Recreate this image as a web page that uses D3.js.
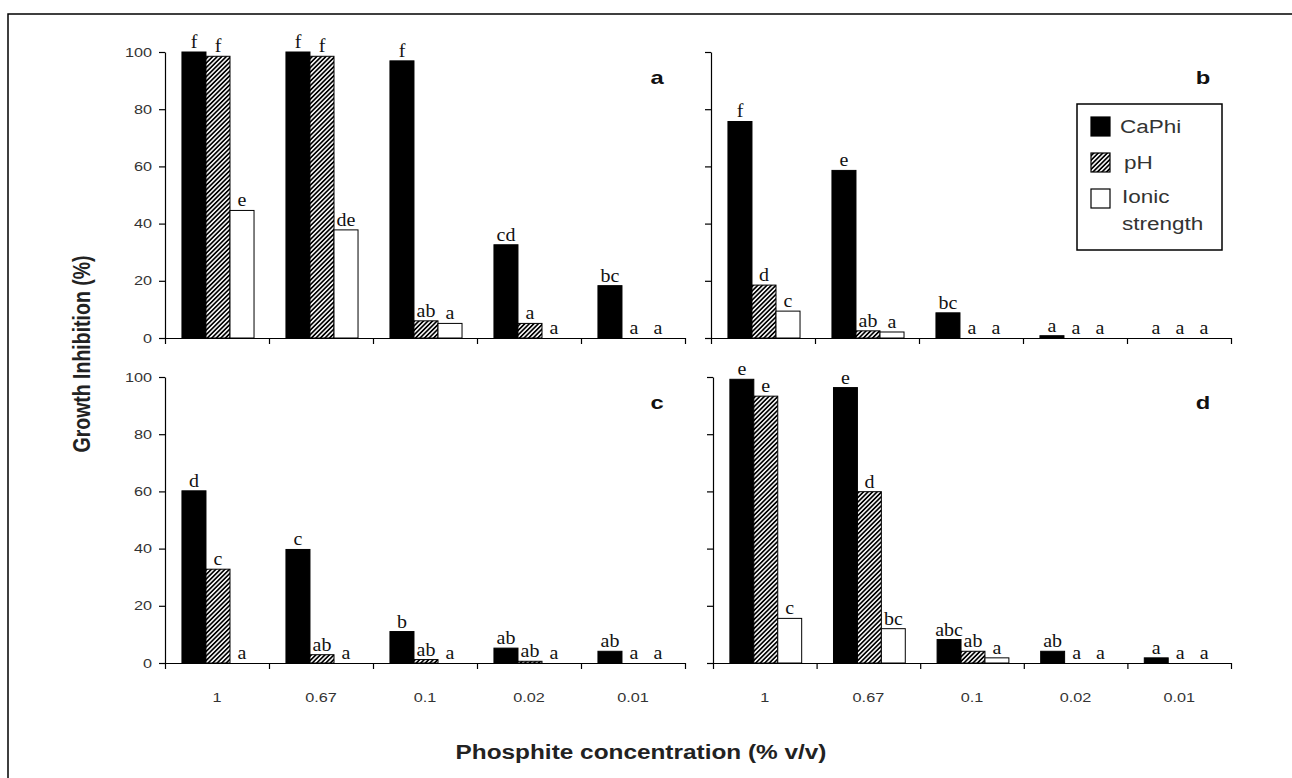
<!DOCTYPE html>
<html><head><meta charset="utf-8">
<script src="https://cdn.jsdelivr.net/npm/d3@7"></script>
<style>body{margin:0;background:#fff} svg{display:block}</style>
</head><body><svg id="chart" width="1292" height="778"></svg>
<script>
// ---- data ----
const categories = ["1","0.67","0.1","0.02","0.01"];
const seriesNames = ["CaPhi","pH","Ionic strength"];
const yTicks = [0,20,40,60,80,100];

const aCaPhi = [100,100,96.9,32.6,18.3];
const aPH    = [98.5,98.5,6.0,5.1,0];
const aIonic = [44.6,37.8,5.1,0,0];
const aCaPhiSig = ["f","f","f","cd","bc"];
const aPHSig    = ["f","f","ab","a","a"];
const aIonicSig = ["e","de","a","a","a"];

const bCaPhi = [75.7,58.6,8.8,0.8,0];
const bPH    = [18.5,2.5,0,0,0];
const bIonic = [9.4,2.1,0,0,0];
const bCaPhiSig = ["f","e","bc","a","a"];
const bPHSig    = ["d","ab","a","a","a"];
const bIonicSig = ["c","a","a","a","a"];

const cCaPhi = [60.2,39.7,11.0,5.2,4.1];
const cPH    = [32.8,2.9,1.2,0.6,0];
const cIonic = [0,0,0,0,0];
const cCaPhiSig = ["d","c","b","ab","ab"];
const cPHSig    = ["c","ab","ab","ab","a"];
const cIonicSig = ["a","a","a","a","a"];

const dCaPhi = [99.2,96.3,8.2,4.1,1.8];
const dPH    = [93.3,59.9,4.1,0,0];
const dIonic = [15.6,12.0,1.8,0,0];
const dCaPhiSig = ["e","e","abc","ab","a"];
const dPHSig    = ["e","d","ab","a","a"];
const dIonicSig = ["c","bc","a","a","a"];

// ---- layout ----
const SX = 1.25; // horizontal stretch of sans text, as in the reference
const SANS = "Arial, 'Liberation Sans', sans-serif";
const SERIF = "'Times New Roman', 'Liberation Serif', serif";
const panels = [
  {id:"a", x0:165, x1:685, top:52, bot:338, yLab:true,  xLab:false, vals:[aCaPhi,aPH,aIonic], sig:[aCaPhiSig,aPHSig,aIonicSig]},
  {id:"b", x0:711, x1:1231, top:52, bot:338, yLab:false, xLab:false, vals:[bCaPhi,bPH,bIonic], sig:[bCaPhiSig,bPHSig,bIonicSig]},
  {id:"c", x0:165, x1:685, top:377, bot:663, yLab:true,  xLab:true,  vals:[cCaPhi,cPH,cIonic], sig:[cCaPhiSig,cPHSig,cIonicSig]},
  {id:"d", x0:713, x1:1231, top:377, bot:663, yLab:false, xLab:true,  vals:[dCaPhi,dPH,dIonic], sig:[dCaPhiSig,dPHSig,dIonicSig]}
];
const fills = ["#000","url(#hatch)","#fff"];

const svg = d3.select("#chart");
svg.append("rect").attr("width",1292).attr("height",778).attr("fill","#fff");
svg.append("rect").attr("x",8).attr("y",14).attr("width",1300).attr("height",800)
  .attr("fill","none").attr("stroke","#000").attr("stroke-width",1.5);

const defs = svg.append("defs");
const pat = defs.append("pattern").attr("id","hatch").attr("patternUnits","userSpaceOnUse")
  .attr("width",3.2).attr("height",3.2).attr("patternTransform","rotate(45)");
pat.append("rect").attr("width",3.2).attr("height",3.2).attr("fill","#fff");
pat.append("line").attr("x1",1.6).attr("y1",0).attr("x2",1.6).attr("y2",3.2)
  .attr("stroke","#000").attr("stroke-width",1.7);

function txt(parent, x, y, s, opts={}) {
  const sx = opts.sx || SX;
  const t = parent.append("text")
    .attr("transform", `translate(${x},${y}) scale(${sx},1)`)
    .attr("text-anchor", opts.anchor || "middle")
    .attr("font-family", opts.family || SANS)
    .attr("font-size", opts.size || 13)
    .attr("font-weight", opts.weight || "normal")
    .attr("fill", opts.fill || "#000")
    .text(s);
  if (opts.dy) t.attr("dy", opts.dy);
  return t;
}

panels.forEach(P => {
  const g = svg.append("g");
  const xb = d3.scaleBand().domain(categories).range([P.x0, P.x1]);
  const bw = xb.bandwidth();
  const xs = d3.scaleBand().domain(seriesNames).range([bw*0.163, bw*0.856]);
  const y = d3.scaleLinear().domain([0,100]).range([P.bot, P.top]);

  // bars
  seriesNames.forEach((s, si) => {
    categories.forEach((c, ci) => {
      const v = P.vals[si][ci];
      if (v > 0) {
        g.append("rect")
          .attr("x", xb(c) + xs(s)).attr("y", y(v))
          .attr("width", xs.bandwidth()).attr("height", y(0) - y(v))
          .attr("fill", fills[si]).attr("stroke", "#000").attr("stroke-width", 1);
      }
      txt(g, xb(c) + xs(s) + xs.bandwidth()/2, y(v) - 4, P.sig[si][ci],
          {family: SERIF, size: 19, sx: 1.05, fill: "#111"});
    });
  });

  // y axis
  const ya = g.append("g").attr("transform", `translate(${P.x0},0)`)
    .call(d3.axisLeft(y).tickValues(yTicks).tickSize(6).tickSizeOuter(0)
      .tickFormat(P.yLab ? d3.format("d") : () => ""));
  ya.selectAll("path,line").attr("stroke","#000").attr("stroke-width",1.2);
  ya.selectAll("text").each(function(){
    const t = d3.select(this);
    t.attr("x", -13/SX).attr("transform", `scale(${SX},1)`)
     .attr("font-family", SANS).attr("font-size", 13).attr("fill", "#333");
  });

  // x axis (ticks at category boundaries)
  const xl = d3.scaleLinear().domain([0, categories.length]).range([P.x0, P.x1]);
  const xa = g.append("g").attr("transform", `translate(0,${P.bot})`)
    .call(d3.axisBottom(xl).tickValues(d3.range(categories.length + 1))
      .tickSize(6).tickSizeOuter(0).tickFormat(() => ""));
  xa.selectAll("path,line").attr("stroke","#000").attr("stroke-width",1.2);

  if (P.xLab) {
    categories.forEach(c => {
      txt(g, xb(c) + bw/2, P.bot + 39, c, {size: 13, fill: "#333"});
    });
  }

  // panel letter
  txt(g, P.x1 - 28, P.top + 32, P.id, {size: 19, weight: "bold", fill: "#111"});
});

// legend (panel b)
const lg = svg.append("g");
lg.append("rect").attr("x",1077).attr("y",104).attr("width",145).attr("height",146)
  .attr("fill","#fff").attr("stroke","#000").attr("stroke-width",1.5);
const legY = [117,153,189];
seriesNames.forEach((s, i) => {
  lg.append("rect").attr("x",1091).attr("y",legY[i]).attr("width",19).attr("height",19)
    .attr("fill",fills[i]).attr("stroke","#000").attr("stroke-width",1.2);
});
txt(lg, 1120, 133, "CaPhi", {anchor:"start", size:18, fill:"#333"});
txt(lg, 1124, 169, "pH", {anchor:"start", size:18, fill:"#333"});
txt(lg, 1122, 203, "Ionic", {anchor:"start", size:18, fill:"#333"});
txt(lg, 1122, 230, "strength", {anchor:"start", size:18, fill:"#333"});

// axis titles
svg.append("text")
  .attr("transform", `translate(90,354) rotate(-90) scale(1,${SX})`)
  .attr("text-anchor","middle").attr("font-family",SANS).attr("font-size",19.5)
  .attr("font-weight","bold").attr("fill","#222").text("Growth Inhibition (%)");
txt(svg, 641, 759, "Phosphite concentration (% v/v)", {size:19.5, weight:"bold", fill:"#222"});
</script></body></html>
